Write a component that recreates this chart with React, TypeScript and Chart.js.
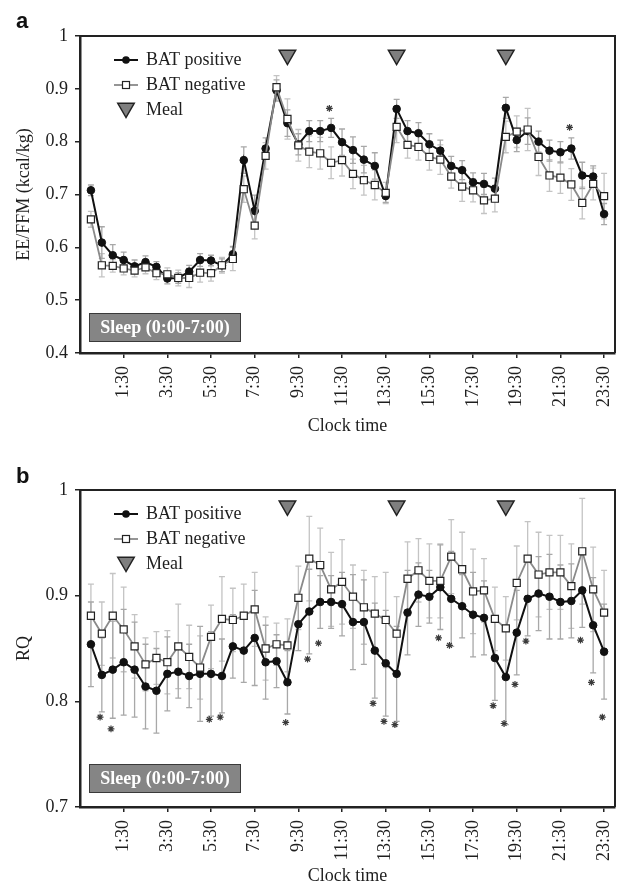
import React, { useEffect, useRef } from "react";
import { Chart, registerables } from "chart.js";

Chart.register(...registerables);

// ---------- DATA ----------
const clockTimes = [
  "0:00", "0:30", "1:00", "1:30", "2:00", "2:30", "3:00", "3:30", "4:00", "4:30", "5:00", "5:30",
  "6:00", "6:30", "7:00", "7:30", "8:00", "8:30", "9:00", "9:30", "10:00", "10:30", "11:00", "11:30",
  "12:00", "12:30", "13:00", "13:30", "14:00", "14:30", "15:00", "15:30", "16:00", "16:30", "17:00", "17:30",
  "18:00", "18:30", "19:00", "19:30", "20:00", "20:30", "21:00", "21:30", "22:00", "22:30", "23:00", "23:30",
];
const tickLabels = ["1:30", "3:30", "5:30", "7:30", "9:30", "11:30", "13:30", "15:30", "17:30", "19:30", "21:30", "23:30"];
const mealTimes = ["9:00", "14:00", "19:00"];

// Panel a: EE/FFM (kcal/kg)
const eePositive = [
  0.708, 0.609, 0.585, 0.576, 0.564, 0.572, 0.563, 0.541, 0.542, 0.554, 0.576, 0.575,
  0.566, 0.587, 0.765, 0.669, 0.787, 0.897, 0.835, 0.795, 0.820, 0.820, 0.826, 0.799,
  0.784, 0.766, 0.754, 0.697, 0.862, 0.820, 0.816, 0.795, 0.783, 0.754, 0.746, 0.723,
  0.720, 0.711, 0.864, 0.803, 0.820, 0.800, 0.783, 0.780, 0.787, 0.736, 0.734, 0.663,
];
const eeNegative = [
  0.653, 0.566, 0.565, 0.560, 0.556, 0.562, 0.551, 0.549, 0.542, 0.542, 0.552, 0.551,
  0.566, 0.578, 0.710, 0.641, 0.773, 0.903, 0.843, 0.793, 0.781, 0.778, 0.760, 0.765,
  0.739, 0.727, 0.718, 0.703, 0.828, 0.794, 0.790, 0.771, 0.766, 0.734, 0.715, 0.708,
  0.689, 0.692, 0.809, 0.819, 0.823, 0.771, 0.736, 0.732, 0.719, 0.684, 0.720, 0.697,
];
const eePositiveErr = [
  0.010, 0.030, 0.020, 0.015, 0.012, 0.012, 0.010, 0.010, 0.010, 0.012, 0.012, 0.010,
  0.012, 0.015, 0.025, 0.030, 0.020, 0.020, 0.025, 0.020, 0.020, 0.020, 0.018, 0.025,
  0.025, 0.025, 0.025, 0.012, 0.018, 0.020, 0.020, 0.020, 0.020, 0.018, 0.018, 0.018,
  0.020, 0.020, 0.020, 0.022, 0.025, 0.020, 0.020, 0.020, 0.020, 0.025, 0.020, 0.020,
];
const eeNegativeErr = [
  0.015, 0.022, 0.012, 0.012, 0.012, 0.012, 0.012, 0.012, 0.015, 0.018, 0.018, 0.015,
  0.015, 0.022, 0.025, 0.025, 0.025, 0.022, 0.038, 0.030, 0.030, 0.030, 0.030, 0.030,
  0.028, 0.028, 0.028, 0.020, 0.030, 0.025, 0.025, 0.025, 0.028, 0.022, 0.028, 0.022,
  0.025, 0.025, 0.030, 0.030, 0.040, 0.035, 0.030, 0.030, 0.030, 0.030, 0.030, 0.043,
];
const eeStarTimes = ["11:00", "22:00"];
const eeStarValues = [0.863, 0.827];

// Panel b: RQ
const rqPositive = [
  0.854, 0.825, 0.830, 0.837, 0.830, 0.814, 0.810, 0.826, 0.828, 0.824, 0.826, 0.826,
  0.824, 0.852, 0.848, 0.860, 0.837, 0.838, 0.818, 0.873, 0.885, 0.894, 0.894, 0.892,
  0.875, 0.875, 0.848, 0.836, 0.826, 0.884, 0.901, 0.899, 0.908, 0.897, 0.890, 0.882,
  0.879, 0.841, 0.823, 0.865, 0.897, 0.902, 0.899, 0.894, 0.895, 0.905, 0.872, 0.847,
];
const rqNegative = [
  0.881, 0.864, 0.881, 0.868, 0.852, 0.835, 0.841, 0.837, 0.852, 0.842, 0.832, 0.861,
  0.878, 0.877, 0.881, 0.887, 0.850, 0.854, 0.853, 0.898, 0.935, 0.929, 0.906, 0.913,
  0.899, 0.889, 0.883, 0.877, 0.864, 0.916, 0.924, 0.914, 0.914, 0.937, 0.925, 0.904,
  0.905, 0.878, 0.869, 0.912, 0.935, 0.920, 0.922, 0.922, 0.909, 0.942, 0.906, 0.884,
];
const rqPositiveErr = [
  0.040, 0.035, 0.046, 0.050, 0.045, 0.040, 0.040, 0.035, 0.025, 0.030, 0.045, 0.040,
  0.035, 0.030, 0.030, 0.045, 0.035, 0.025, 0.030, 0.025, 0.040, 0.025, 0.025, 0.030,
  0.045, 0.040, 0.045, 0.050, 0.045, 0.040, 0.030, 0.025, 0.040, 0.045, 0.030, 0.040,
  0.035, 0.040, 0.045, 0.040, 0.035, 0.035, 0.040, 0.035, 0.035, 0.035, 0.045, 0.045,
];
const rqNegativeErr = [
  0.030, 0.030, 0.040, 0.040, 0.030, 0.025, 0.025, 0.030, 0.040, 0.030, 0.030, 0.030,
  0.040, 0.030, 0.030, 0.035, 0.030, 0.020, 0.025, 0.030, 0.040, 0.035, 0.035, 0.040,
  0.030, 0.035, 0.035, 0.045, 0.035, 0.035, 0.030, 0.035, 0.035, 0.035, 0.035, 0.040,
  0.030, 0.030, 0.030, 0.035, 0.035, 0.040, 0.035, 0.035, 0.040, 0.050, 0.040, 0.040,
];
const rqStarTimes = [
  "0:30", "1:00", "5:30", "6:00", "9:00", "10:00", "10:30", "13:00", "13:30", "14:00",
  "16:00", "16:30", "18:30", "19:00", "19:30", "20:00", "22:30", "23:00", "23:30",
];
const rqStarValues = [
  0.785, 0.774, 0.783, 0.785, 0.780, 0.840, 0.855, 0.798, 0.781, 0.778,
  0.860, 0.853, 0.796, 0.779, 0.816, 0.857, 0.858, 0.818, 0.785,
];

const legendLabels = ["BAT positive", "BAT negative", "Meal"];
const sleepLabel = "Sleep (0:00-7:00)";

// ---------- HELPERS ----------
const toHours = (t: string) => {
  const [h, m] = t.split(":").map(Number);
  return h + m / 60;
};

const SERIF = '"Liberation Serif", "Times New Roman", serif';
const TEXT = "#1e1e1e";
const CANVAS_W = 626;

type PanelSpec = {
  letter: string;
  yTitle: string;
  yMin: number;
  yMax: number;
  pos: number[];
  neg: number[];
  posErr: number[];
  negErr: number[];
  starTimes: string[];
  starValues: number[];
  mealY: number;
  padTop: number;
  xAxisHeight: number;
  xTitlePadBottom: number;
  letterBaseline: number;
  sleepBottomOffset: number;
};

function makeChart(canvas: HTMLCanvasElement, p: PanelSpec) {
  const errPlugin = {
    id: "errbars",
    beforeDatasetsDraw(chart: any) {
      const { ctx, scales } = chart;
      const xs = scales.x;
      const ys = scales.y;
      const draw = (vals: number[], errs: number[], color: string) => {
        ctx.save();
        ctx.strokeStyle = color;
        ctx.lineWidth = 1.3;
        vals.forEach((v, i) => {
          const x = xs.getPixelForValue(toHours(clockTimes[i]));
          const y1 = ys.getPixelForValue(v - errs[i]);
          const y2 = ys.getPixelForValue(v + errs[i]);
          ctx.beginPath();
          ctx.moveTo(x, y1);
          ctx.lineTo(x, y2);
          ctx.moveTo(x - 3, y1);
          ctx.lineTo(x + 3, y1);
          ctx.moveTo(x - 3, y2);
          ctx.lineTo(x + 3, y2);
          ctx.stroke();
        });
        ctx.restore();
      };
      draw(p.neg, p.negErr, "#c4c4c4");
      draw(p.pos, p.posErr, "#a8a8a8");
    },
  };

  const decorPlugin = {
    id: "decor",
    afterDraw(chart: any) {
      const { ctx, chartArea } = chart;
      const L = chartArea.left;
      const T = chartArea.top;
      ctx.save();
      // frame (top and right)
      ctx.strokeStyle = "#222";
      ctx.lineWidth = 2;
      ctx.beginPath();
      ctx.moveTo(chartArea.left, chartArea.top);
      ctx.lineTo(chartArea.right, chartArea.top);
      ctx.lineTo(chartArea.right, chartArea.bottom);
      ctx.stroke();

      // legend
      const rows = [T + 24, T + 49, T + 74];
      ctx.font = `18px ${SERIF}`;
      ctx.textBaseline = "middle";
      ctx.textAlign = "left";
      // positive
      ctx.strokeStyle = "#111";
      ctx.lineWidth = 2;
      ctx.beginPath();
      ctx.moveTo(L + 34, rows[0]);
      ctx.lineTo(L + 58, rows[0]);
      ctx.stroke();
      ctx.fillStyle = "#111";
      ctx.beginPath();
      ctx.arc(L + 46, rows[0], 3.8, 0, Math.PI * 2);
      ctx.fill();
      // negative
      ctx.strokeStyle = "#8a8a8a";
      ctx.lineWidth = 1.8;
      ctx.beginPath();
      ctx.moveTo(L + 34, rows[1]);
      ctx.lineTo(L + 58, rows[1]);
      ctx.stroke();
      ctx.fillStyle = "#fff";
      ctx.strokeStyle = "#222";
      ctx.lineWidth = 1.2;
      ctx.fillRect(L + 42.5, rows[1] - 3.5, 7, 7);
      ctx.strokeRect(L + 42.5, rows[1] - 3.5, 7, 7);
      // meal
      const r = 9.5;
      const cx = L + 46;
      const cy = rows[2] - 2;
      ctx.beginPath();
      ctx.moveTo(cx, cy + r);
      ctx.lineTo(cx - r * 0.866, cy - r / 2);
      ctx.lineTo(cx + r * 0.866, cy - r / 2);
      ctx.closePath();
      ctx.fillStyle = "#7f7f7f";
      ctx.fill();
      ctx.strokeStyle = "#222";
      ctx.lineWidth = 1.5;
      ctx.stroke();
      ctx.fillStyle = TEXT;
      legendLabels.forEach((lab, i) => ctx.fillText(lab, L + 66, rows[i]));

      // sleep box
      const bx = L + 9;
      const bw = 152;
      const bh = 29;
      const by = chartArea.bottom - p.sleepBottomOffset - bh;
      ctx.fillStyle = "#858585";
      ctx.fillRect(bx, by, bw, bh);
      ctx.strokeStyle = "#3a3a3a";
      ctx.lineWidth = 1;
      ctx.strokeRect(bx + 0.5, by + 0.5, bw - 1, bh - 1);
      ctx.fillStyle = "#fff";
      ctx.font = `bold 18px ${SERIF}`;
      ctx.textAlign = "center";
      ctx.fillText(sleepLabel, bx + bw / 2, by + bh / 2 + 1);

      // panel letter
      ctx.fillStyle = "#111";
      ctx.font = 'bold 22px "Liberation Sans", Arial, sans-serif';
      ctx.textAlign = "left";
      ctx.textBaseline = "alphabetic";
      ctx.fillText(p.letter, 16, p.letterBaseline);
      ctx.restore();
    },
  };

  const font = { family: SERIF, size: 18 };

  return new Chart(canvas, {
    type: "line",
    data: {
      datasets: [
        {
          label: "Meal",
          data: mealTimes.map((t) => ({ x: toHours(t), y: p.mealY })),
          showLine: false,
          pointStyle: "triangle",
          rotation: 180,
          pointRadius: 9.5,
          pointBackgroundColor: "#7f7f7f",
          pointBorderColor: "#222",
          pointBorderWidth: 1.5,
          order: 0,
        } as any,
        {
          label: "stars",
          data: p.starTimes.map((t, i) => ({ x: toHours(t) - 0.08, y: p.starValues[i] })),
          showLine: false,
          pointStyle: "star",
          pointRadius: 3.4,
          pointBorderColor: "#3a3a3a",
          pointBorderWidth: 1.2,
          order: 0,
        } as any,
        {
          label: "BAT negative",
          data: clockTimes.map((t, i) => ({ x: toHours(t), y: p.neg[i] })),
          borderColor: "#8a8a8a",
          borderWidth: 1.8,
          pointStyle: "rect",
          pointRadius: 5,
          pointBackgroundColor: "#fff",
          pointBorderColor: "#222",
          pointBorderWidth: 1.2,
          tension: 0,
          order: 1,
        } as any,
        {
          label: "BAT positive",
          data: clockTimes.map((t, i) => ({ x: toHours(t), y: p.pos[i] })),
          borderColor: "#111",
          borderWidth: 2,
          pointStyle: "circle",
          pointRadius: 3.8,
          pointBackgroundColor: "#111",
          pointBorderColor: "#111",
          pointBorderWidth: 1,
          tension: 0,
          order: 2,
        } as any,
      ],
    },
    options: {
      responsive: false,
      animation: false,
      devicePixelRatio: 1,
      layout: { padding: { top: p.padTop, right: 5, left: 0, bottom: 0 } },
      plugins: { legend: { display: false }, tooltip: { enabled: false } },
      scales: {
        x: {
          type: "linear",
          min: -0.5,
          max: 24,
          afterBuildTicks: (s: any) => {
            s.ticks = tickLabels.map((l) => ({ value: toHours(l) }));
          },
          afterFit: (s: any) => {
            s.height = p.xAxisHeight;
            s.paddingLeft = 0;
            s.paddingRight = 0;
          },
          ticks: {
            autoSkip: false,
            minRotation: 90,
            maxRotation: 90,
            padding: 8,
            color: TEXT,
            font,
            callback: (_v: any, i: number) => tickLabels[i],
          },
          grid: { display: true, drawOnChartArea: false, drawTicks: true, tickLength: 5, color: "#222", lineWidth: 1.5 },
          border: { display: true, color: "#222", width: 2.5 },
          title: { display: true, text: "Clock time", color: TEXT, font, padding: { top: 0, bottom: p.xTitlePadBottom } },
        },
        y: {
          type: "linear",
          min: p.yMin,
          max: p.yMax,
          ticks: {
            stepSize: 0.1,
            padding: 7,
            color: TEXT,
            font,
            callback: (v: any) => (Math.abs(v - 1) < 1e-9 ? "1" : Number(v).toFixed(1)),
          },
          afterFit: (s: any) => {
            s.width = 80;
            s.paddingTop = 0;
            s.paddingBottom = 0;
          },
          grid: { display: true, drawOnChartArea: false, drawTicks: true, tickLength: 5, color: "#222", lineWidth: 1.5 },
          border: { display: true, color: "#222", width: 2.5 },
          title: { display: true, text: p.yTitle, color: TEXT, font, padding: { top: 13, bottom: 0 } },
        },
      },
    } as any,
    plugins: [errPlugin, decorPlugin],
  });
}

const panelA: PanelSpec = {
  letter: "a",
  yTitle: "EE/FFM (kcal/kg)",
  yMin: 0.4,
  yMax: 1,
  pos: eePositive,
  neg: eeNegative,
  posErr: eePositiveErr,
  negErr: eeNegativeErr,
  starTimes: eeStarTimes,
  starValues: eeStarValues,
  mealY: 0.964,
  padTop: 36,
  xAxisHeight: 87,
  xTitlePadBottom: 3,
  letterBaseline: 28,
  sleepBottomOffset: 11,
};

const panelB: PanelSpec = {
  letter: "b",
  yTitle: "RQ",
  yMin: 0.7,
  yMax: 1,
  pos: rqPositive,
  neg: rqNegative,
  posErr: rqPositiveErr,
  negErr: rqNegativeErr,
  starTimes: rqStarTimes,
  starValues: rqStarValues,
  mealY: 0.985,
  padTop: 50,
  xAxisHeight: 80,
  xTitlePadBottom: 0,
  letterBaseline: 43,
  sleepBottomOffset: 14,
};

export default function App() {
  const refA = useRef<HTMLCanvasElement>(null);
  const refB = useRef<HTMLCanvasElement>(null);

  useEffect(() => {
    document.body.style.margin = "0";
    const a = makeChart(refA.current!, panelA);
    const b = makeChart(refB.current!, panelB);
    return () => {
      a.destroy();
      b.destroy();
    };
  }, []);

  return (
    <div style={{ position: "relative", width: 619, height: 887, overflow: "hidden", background: "#fff" }}>
      <canvas ref={refA} width={CANVAS_W} height={440} style={{ position: "absolute", left: 0, top: 0 }} />
      <canvas ref={refB} width={CANVAS_W} height={447} style={{ position: "absolute", left: 0, top: 440 }} />
    </div>
  );
}
